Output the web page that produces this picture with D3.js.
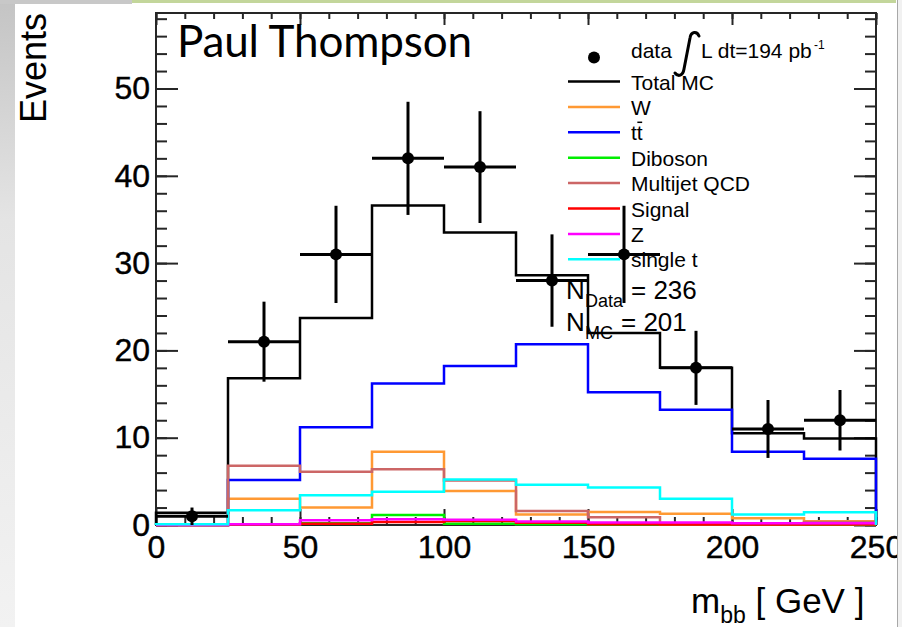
<!DOCTYPE html>
<html>
<head>
<meta charset="utf-8">
<script src="https://cdn.jsdelivr.net/npm/d3@7"></script>
<style>
  html, body { margin: 0; padding: 0; background: #fff; }
  svg { display: block; }
  text { font-family: "Liberation Sans", Arial, sans-serif; fill: #000; }
</style>
</head>
<body>
<div id="chart-mount"></div>
<script>
var WIDTH = 902;
var HEIGHT = 627;

// bin edges of m_bb [GeV]
var binEdges = [0, 25, 50, 75, 100, 125, 150, 175, 200, 225, 250];
var dataCounts = [1, 21, 31, 42, 41, 28, 31, 18, 11, 12];
var totalMC = [1.4, 16.8, 23.7, 36.6, 33.5, 28.6, 22.0, 18.0, 10.5, 9.9];
var wJets = [0, 3.0, 2.0, 8.4, 3.9, 1.2, 1.5, 1.3, 0.76, 0.42];
var ttbar = [0, 5.15, 11.2, 16.2, 18.2, 20.7, 15.2, 13.2, 8.4, 7.6];
var diboson = [0, 0.05, 0.2, 1.15, 0.15, 0.1, 0.05, 0.02, 0.02, 0.02];
var multijet = [0, 6.8, 6.1, 6.4, 5.1, 1.6, 0.9, 0.1, 0.1, 0.35];
var signal = [0, 0.05, 0.15, 0.35, 0.45, 0.25, 0.1, 0.05, 0.05, 0.05];
var zJets = [0, 0.1, 0.55, 0.65, 0.6, 0.4, 0.3, 0.3, 0.2, 0.2];
var singleTop = [0.1, 1.7, 3.4, 3.8, 5.2, 4.6, 4.3, 3.0, 1.2, 1.45];

var seriesNames = ['W', 'tt', 'Diboson', 'Multijet QCD', 'Signal', 'Z', 'single t'];
var seriesValues = [wJets, ttbar, diboson, multijet, signal, zJets, singleTop];
var seriesColors = ['#ff9933', '#0000ff', '#00ee00', '#cc6666', '#ff0000', '#ff00ff', '#00ffff'];

var xTicks = [0, 50, 100, 150, 200, 250];
var yTicks = [0, 10, 20, 30, 40, 50];

var nData = 236;
var nMC = 201;

var PLOT = { left: 156, right: 876, top: 13, bottom: 525 };
var AXIS_COLOR = '#262626';

var x = d3.scaleLinear().domain([0, 250]).range([PLOT.left, PLOT.right]);
var y = d3.scaleLinear().domain([0, 58.65]).range([PLOT.bottom, PLOT.top]);

var $svg = d3.select('#chart-mount').append('svg')
  .attr('width', WIDTH)
  .attr('height', HEIGHT);

function drawSlide () {
  var defs = $svg.append('defs');
  var grad = defs.append('linearGradient')
    .attr('id', 'side-grad')
    .attr('x1', 0).attr('y1', 0).attr('x2', 0).attr('y2', 1);
  grad.append('stop').attr('offset', '0%').attr('stop-color', '#c4c4c4');
  grad.append('stop').attr('offset', '35%').attr('stop-color', '#e4e4e4');
  grad.append('stop').attr('offset', '100%').attr('stop-color', '#f2f2f2');

  defs.append('clipPath').attr('id', 'slide-clip')
    .append('rect')
      .attr('x', 15).attr('y', 4)
      .attr('width', 882).attr('height', HEIGHT - 4);

  $svg.append('rect')
    .attr('x', 0).attr('y', 0)
    .attr('width', WIDTH).attr('height', HEIGHT)
    .attr('fill', '#fff');
  $svg.append('rect')
    .attr('x', 0).attr('y', 0)
    .attr('width', 15).attr('height', HEIGHT)
    .attr('fill', 'url(#side-grad)');
  $svg.append('rect')
    .attr('x', 0).attr('y', 0)
    .attr('width', 132).attr('height', 4)
    .attr('fill', '#c8c8c8');
  $svg.append('rect')
    .attr('x', 132).attr('y', 0)
    .attr('width', 764).attr('height', 3)
    .attr('fill', '#c3d69b');
  $svg.append('rect')
    .attr('x', 897).attr('y', 0)
    .attr('width', 5).attr('height', HEIGHT)
    .attr('fill', '#f1f1f1');
  $svg.append('line')
    .attr('x1', 897.5).attr('x2', 897.5)
    .attr('y1', 0).attr('y2', HEIGHT)
    .attr('stroke', '#a8a8a8');
}

function stepPoints (values) {
  var pts = [[binEdges[0], 0]];
  values.forEach(function (v, i) {
    pts.push([binEdges[i], v]);
    pts.push([binEdges[i + 1], v]);
  });
  pts.push([binEdges[binEdges.length - 1], 0]);
  return pts;
}

var stepLine = d3.line()
  .x(function (d) { return x(d[0]); })
  .y(function (d) { return y(d[1]); });

function styleAxis (g) {
  g.select('.domain').remove();
  g.selectAll('.tick line')
    .attr('stroke', AXIS_COLOR)
    .attr('stroke-width', 2);
  g.selectAll('.tick text')
    .style('font-family', '"Liberation Sans", Arial, sans-serif')
    .style('font-size', '32px')
    .attr('fill', '#000')
    .attr('stroke', '#000')
    .attr('stroke-width', 0.4);
}

function drawAxes (root) {
  var minorX = d3.range(0, 251, 10);
  var minorY = d3.range(0, 59, 2);

  root.append('g')
    .attr('transform', 'translate(0,' + PLOT.bottom + ')')
    .call(d3.axisBottom(x).tickValues(minorX).tickSize(-8).tickFormat(''))
    .call(styleAxis);
  root.append('g')
    .attr('transform', 'translate(0,' + PLOT.bottom + ')')
    .call(d3.axisBottom(x).tickValues(xTicks).tickSize(-16).tickPadding(10).tickFormat(d3.format('d')))
    .call(styleAxis);
  root.append('g')
    .attr('transform', 'translate(0,' + PLOT.top + ')')
    .call(d3.axisTop(x).tickValues(minorX).tickSize(-6).tickFormat(''))
    .call(styleAxis);
  root.append('g')
    .attr('transform', 'translate(0,' + PLOT.top + ')')
    .call(d3.axisTop(x).tickValues(xTicks).tickSize(-12).tickFormat(''))
    .call(styleAxis);

  root.append('g')
    .attr('transform', 'translate(' + PLOT.left + ',0)')
    .call(d3.axisLeft(y).tickValues(minorY).tickSize(-11).tickFormat(''))
    .call(styleAxis);
  root.append('g')
    .attr('transform', 'translate(' + PLOT.left + ',0)')
    .call(d3.axisLeft(y).tickValues(yTicks).tickSize(-22).tickPadding(6).tickFormat(d3.format('d')))
    .call(styleAxis);
  root.append('g')
    .attr('transform', 'translate(' + PLOT.right + ',0)')
    .call(d3.axisRight(y).tickValues(minorY).tickSize(-11).tickFormat(''))
    .call(styleAxis);
  root.append('g')
    .attr('transform', 'translate(' + PLOT.right + ',0)')
    .call(d3.axisRight(y).tickValues(yTicks).tickSize(-22).tickFormat(''))
    .call(styleAxis);

  root.append('rect')
    .attr('x', PLOT.left).attr('y', PLOT.top)
    .attr('width', PLOT.right - PLOT.left)
    .attr('height', PLOT.bottom - PLOT.top)
    .attr('fill', 'none')
    .attr('stroke', AXIS_COLOR)
    .attr('stroke-width', 2);
}

function drawHistograms (root) {
  root.append('path')
    .attr('d', stepLine(stepPoints(totalMC)))
    .attr('fill', 'none')
    .attr('stroke', '#000')
    .attr('stroke-width', 2.5);

  root.selectAll('path.mc')
    .data(seriesValues)
    .enter()
      .append('path')
      .attr('class', 'mc')
      .attr('d', function (d) { return stepLine(stepPoints(d)); })
      .attr('fill', 'none')
      .attr('stroke', function (d, i) { return seriesColors[i]; })
      .attr('stroke-width', 2.5);
}

function drawData (root) {
  var pts = dataCounts.map(function (v, i) {
    return { lo: binEdges[i], hi: binEdges[i + 1], v: v, err: Math.sqrt(v) };
  });
  var g = root.append('g').attr('class', 'data');
  var pt = g.selectAll('g').data(pts).enter().append('g');
  pt.append('line')
    .attr('x1', function (d) { return x(d.lo); })
    .attr('x2', function (d) { return x(d.hi); })
    .attr('y1', function (d) { return y(d.v); })
    .attr('y2', function (d) { return y(d.v); })
    .attr('stroke', '#000').attr('stroke-width', 3);
  pt.append('line')
    .attr('x1', function (d) { return x((d.lo + d.hi) / 2); })
    .attr('x2', function (d) { return x((d.lo + d.hi) / 2); })
    .attr('y1', function (d) { return y(d.v - d.err); })
    .attr('y2', function (d) { return y(d.v + d.err); })
    .attr('stroke', '#000').attr('stroke-width', 3);
  pt.append('circle')
    .attr('cx', function (d) { return x((d.lo + d.hi) / 2); })
    .attr('cy', function (d) { return y(d.v); })
    .attr('r', 6)
    .attr('fill', '#000');
}

function drawLegend (root) {
  var ROW0 = 82.5;
  var ROW_STEP = 25.4;
  var leg = root.append('g').attr('class', 'legend');

  // data entry with luminosity
  leg.append('circle').attr('cx', 594).attr('cy', 57.5).attr('r', 6).attr('fill', '#000');
  leg.append('text').attr('x', 631).attr('y', 58).style('font-size', '21px').text('data');
  leg.append('path')
    .attr('d', 'M699,36 C697,31 691,31 690,38 L684,69 C683,76 678,77 675,73')
    .attr('fill', 'none')
    .attr('stroke', '#000')
    .attr('stroke-width', 3)
    .attr('stroke-linecap', 'round');
  leg.append('text').attr('x', 701).attr('y', 58).style('font-size', '21px').text('L dt=194 pb');
  leg.append('text').attr('x', 814).attr('y', 49).style('font-size', '12px').text('-1');

  var names = ['Total MC'].concat(seriesNames);
  var colors = ['#000'].concat(seriesColors);
  var rows = leg.selectAll('g.row')
    .data(names)
    .enter()
      .append('g')
      .attr('class', 'row')
      .attr('transform', function (d, i) { return 'translate(0,' + (ROW0 + i * ROW_STEP) + ')'; });
  rows.append('line')
    .attr('x1', 568).attr('x2', 620)
    .attr('y1', -1).attr('y2', -1)
    .attr('stroke', function (d, i) { return colors[i]; })
    .attr('stroke-width', 2.5);
  rows.append('text')
    .attr('x', 631).attr('y', 7)
    .style('font-size', '21px')
    .text(function (d) { return d; });

  // overline on the second t of tt
  var ttRow = rows.filter(function (d) { return d === 'tt'; });
  var ttNode = ttRow.select('text').node();
  var x0 = 631 + ttNode.getSubStringLength(0, 1);
  var x1 = 631 + ttNode.getSubStringLength(0, 2);
  ttRow.append('line')
    .attr('x1', x0 + 0.5).attr('x2', x1 - 0.5)
    .attr('y1', -11).attr('y2', -11)
    .attr('stroke', '#000').attr('stroke-width', 1.5);

  // event counts
  var counts = [
    { sub: 'Data', value: nData, base: 299, subX: 585, eqX: 631 },
    { sub: 'MC', value: nMC, base: 331, subX: 585, eqX: 621 }
  ];
  var c = leg.selectAll('g.count').data(counts).enter().append('g').attr('class', 'count');
  c.append('text').attr('x', 566).attr('y', function (d) { return d.base; })
    .style('font-size', '26px').text('N');
  c.append('text').attr('x', function (d) { return d.subX; }).attr('y', function (d) { return d.base + 8; })
    .style('font-size', '18px').text(function (d) { return d.sub; });
  c.append('text').attr('x', function (d) { return d.eqX; }).attr('y', function (d) { return d.base; })
    .style('font-size', '26px').text(function (d) { return '= ' + d.value; });
}

function drawLabels (root) {
  root.append('text')
    .attr('transform', 'translate(46,13) rotate(-90)')
    .attr('text-anchor', 'end')
    .style('font-size', '36px')
    .text('Events');

  var xl = root.append('text')
    .attr('x', 691).attr('y', 613)
    .style('font-size', '35px');
  xl.append('tspan').text('m');
  xl.append('tspan').attr('dy', 10).style('font-size', '23px').text('bb');
  xl.append('tspan').attr('dy', -10).text(' [ GeV ]');

  root.append('text')
    .attr('x', 177).attr('y', 57)
    .attr('textLength', 295)
    .style('font-family', 'Lato, "Open Sans", sans-serif')
    .style('font-size', '44px')
    .text('Paul Thompson');
}

document.addEventListener('DOMContentLoaded', function () {
  drawSlide();
  var root = $svg.append('g').attr('clip-path', 'url(#slide-clip)');
  drawAxes(root);
  drawHistograms(root);
  drawData(root);
  drawLegend(root);
  drawLabels(root);
});
</script>
</body>
</html>
